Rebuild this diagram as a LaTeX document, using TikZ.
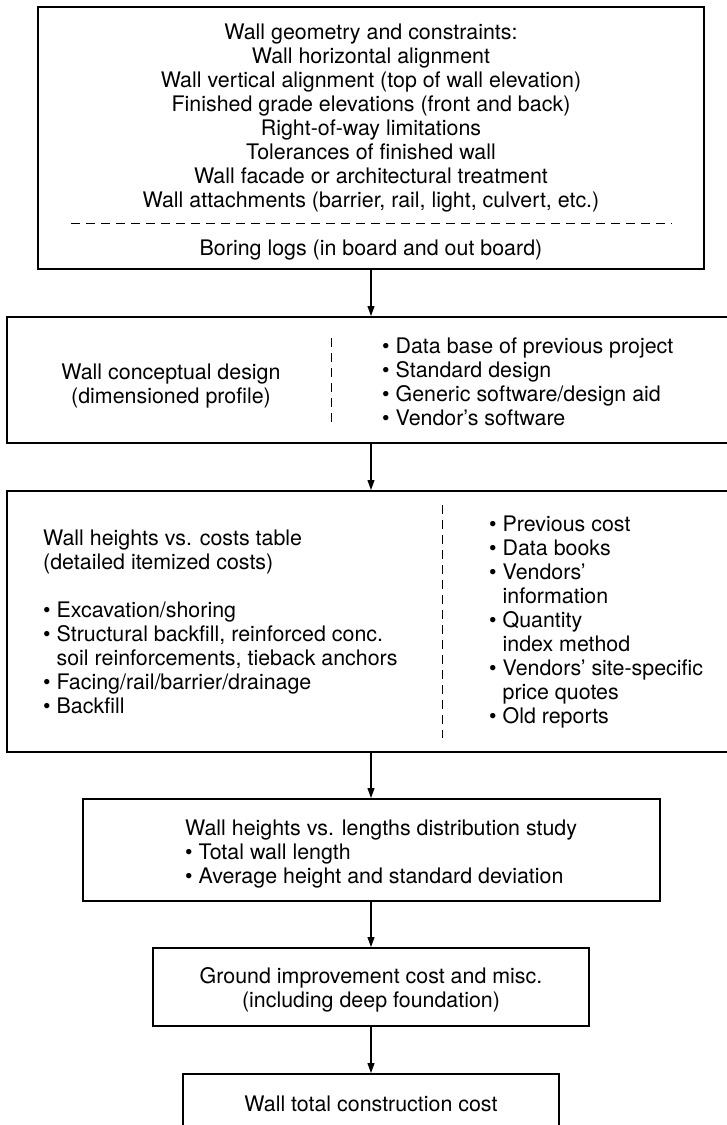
\documentclass[tikz,border=0pt]{standalone}
\usepackage{fontspec}
\setmainfont{TeX Gyre Heros}
\usetikzlibrary{arrows.meta}
\begin{document}
\begin{tikzpicture}[x=1pt,y=-1pt,
  box/.style={draw, line width=2pt, rectangle, inner sep=0pt},
  txt/.style={inner sep=0pt, font=\fontsize{21.4}{24}\selectfont},
  arr/.style={line width=1.1pt, -{Triangle[length=10pt,width=7pt]}},
  sepline/.style={line width=1pt, dash pattern=on 9pt off 6pt}]
\useasboundingbox (0,0) rectangle (727,1125);
\clip (0,0) rectangle (727,1125);

% Box 1
\node[box, minimum width=666pt, minimum height=262pt] (b1) at (371,138) {};
\node[txt, align=center] (t1) at (371,118) {Wall geometry and constraints:\\
Wall horizontal alignment\\
Wall vertical alignment (top of wall elevation)\\
Finished grade elevations (front and back)\\
Right-of-way limitations\\
Tolerances of finished wall\\
Wall facade or architectural treatment\\
Wall attachments (barrier, rail, light, culvert, etc.)};
\coordinate (d1a) at (71,223);
\coordinate (d1b) at (672,223);
\draw[sepline] (d1a) -- (d1b);
\node[txt] (t1b) at (371,250) {Boring logs (in board and out board)};

% Box 2
\node[box, minimum width=728pt, minimum height=126pt] (b2) at (371,380) {};
\node[txt, align=center] (t2l) at (171,386) {Wall conceptual design\\(dimensioned profile)};
\coordinate (d2a) at (331,338);
\coordinate (d2b) at (331,427);
\draw[sepline] (d2a) -- (d2b);
\node[txt, align=left, anchor=west] (t2r) at (382,381.5) {• Data base of previous project\\
• Standard design\\
• Generic software/design aid\\
• Vendor’s software};

% Box 3
\node[box, minimum width=728pt, minimum height=261pt] (b3) at (371,621.5) {};
\node[txt, align=left, anchor=west] (t3l) at (43,622) {Wall heights vs. costs table\\
(detailed itemized costs)\\[24pt]
• Excavation/shoring\\
• Structural backfill, reinforced conc.\\
\hphantom{• }soil reinforcements, tieback anchors\\
• Facing/rail/barrier/drainage\\
• Backfill};
\coordinate (d3a) at (442,505);
\coordinate (d3b) at (442,738);
\draw[sepline] (d3a) -- (d3b);
\node[txt, align=left, anchor=west] (t3r) at (489,621.7) {• Previous cost\\
• Data books\\
• Vendors’\\
\hphantom{• }information\\
• Quantity\\
\hphantom{• }index method\\
• Vendors’ site-specific\\
\hphantom{• }price quotes\\
• Old reports};

% Box 4
\node[box, minimum width=577pt, minimum height=102pt] (b4) at (371,850) {};
\node[txt, align=left, anchor=west] (t4) at (185,854) {Wall heights vs. lengths distribution study\\
• Total wall length\\
• Average height and standard deviation};

% Box 5
\node[box, minimum width=436pt, minimum height=78pt] (b5) at (371,987) {};
\node[txt, align=center] (t5) at (371,990) {Ground improvement cost and misc.\\(including deep foundation)};

% Box 6
\node[box, minimum width=376pt, minimum height=58pt] (b6) at (371,1103) {};
\node[txt] (t6) at (371,1104) {Wall total construction cost};

% Arrows
\draw[arr] (b1.south) -- (b2.north);
\draw[arr] (b2.south) -- (b3.north);
\draw[arr] (b3.south) -- (b4.north);
\draw[arr] (b4.south) -- (b5.north);
\draw[arr] (b5.south) -- (b6.north);
\end{tikzpicture}
\end{document}
